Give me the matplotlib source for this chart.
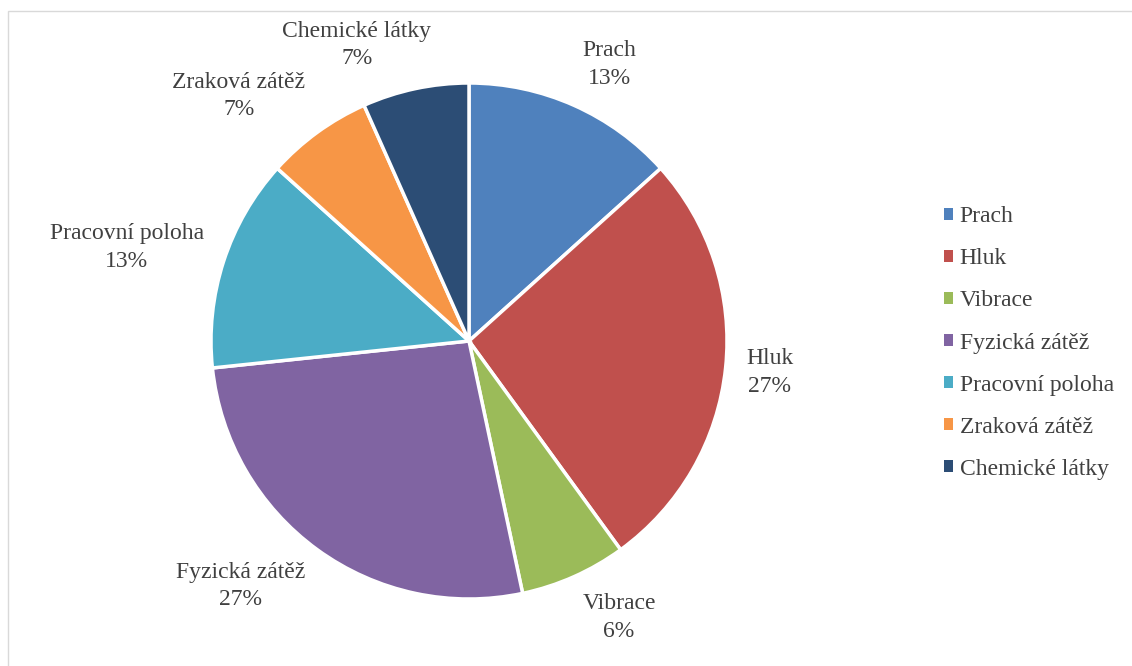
import numpy as np
import matplotlib.pyplot as plt
from matplotlib.patches import Patch, Rectangle

categories = ['Prach', 'Hluk', 'Vibrace', 'Fyzická zátěž', 'Pracovní poloha', 'Zraková zátěž', 'Chemické látky']
counts = [2, 4, 1, 4, 2, 1, 1]
pct_labels = ['13%', '27%', '6%', '27%', '13%', '7%', '7%']
colors = ['#4F81BD', '#C0504D', '#9BBB59', '#8064A2', '#4BACC6', '#F79646', '#2C4D75']

plt.rcParams['font.family'] = ['Liberation Serif', 'DejaVu Serif']
txt_color = '#404040'
fs = 17

fig = plt.figure(figsize=(11.32, 6.66), dpi=100)
W, H = 1132, 666
# pie centre (469,341), radius 258 px
R = 258
cx, cy = 469, 341
ax = fig.add_axes([(cx - R) / W, (H - cy - R) / H, 2 * R / W, 2 * R / H])

wedges, _ = ax.pie(counts, colors=colors, startangle=90, counterclock=False,
                   wedgeprops=dict(edgecolor='white', linewidth=2.5))
ax.set_xlim(-1, 1)
ax.set_ylim(-1, 1)
ax.set_aspect('equal')
ax.axis('off')

# data labels outside the pie
labels = []
for w, name, p in zip(wedges, categories, pct_labels):
    ang = np.deg2rad((w.theta1 + w.theta2) / 2)
    t = ax.text(0, 0, '%s\n%s' % (name, p), ha='center', va='center',
                fontsize=fs, color=txt_color, linespacing=1.4, clip_on=False)
    labels.append((t, ang))

fig.canvas.draw()
rend = fig.canvas.get_renderer()
dist = 1.08
for t, ang in labels:
    bb = t.get_window_extent(rend)
    hw = bb.width / 2 / R
    hh = bb.height / 2 / R
    dx, dy = np.cos(ang), np.sin(ang)
    fx = min(1.0, abs(dx) * 3.5)
    fy = min(1.0, abs(dy))
    t.set_position((dist * dx + np.sign(dx) * hw * fx, dist * dy + np.sign(dy) * hh * fy))

handles = [Patch(facecolor=c, edgecolor='none') for c in colors]
fig.legend(handles, categories, loc='center left', bbox_to_anchor=(944 / W, 1 - 343 / H),
           frameon=False, fontsize=fs, labelcolor=txt_color, handlelength=0.36, handleheight=0.36,
           handletextpad=0.3, labelspacing=0.89, borderpad=0, borderaxespad=0)

# chart area border (only top/left visible in the crop)
fig.patches.append(Rectangle((8 / W, -0.1), 1.2, 1 - 11 / H + 0.1, transform=fig.transFigure,
                             fill=False, edgecolor='#D9D9D9', linewidth=1))

fig.savefig('out.png', dpi=100)
